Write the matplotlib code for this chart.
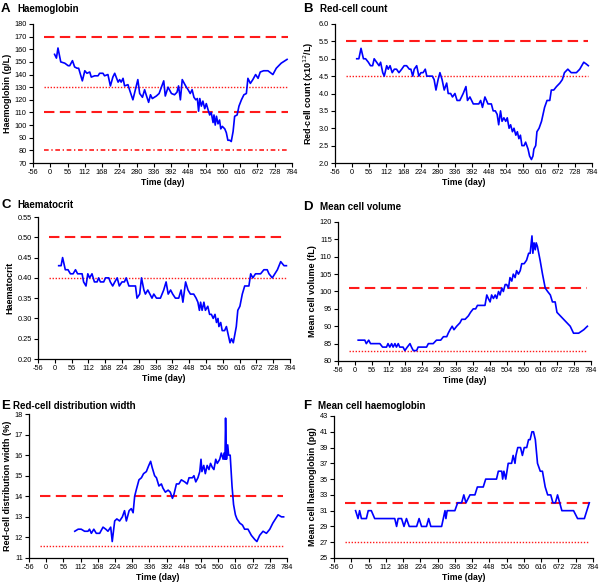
import matplotlib
matplotlib.use('Agg')
import matplotlib.pyplot as plt

plt.rcParams['font.family'] = ['Liberation Sans', 'DejaVu Sans']
plt.rcParams['axes.unicode_minus'] = False

# day axis ticks
day_ticks = list(range(-56, 785, 56))
ref_span = (-21, 770)

# A - haemoglobin (g/L)
hb_day = [14, 20, 25, 34, 47, 58, 63, 72, 79, 87, 92, 104, 112, 119, 128, 133, 144, 155, 160, 171,
          176, 187, 195, 203, 209, 220, 225, 230, 236, 241, 252, 257, 268, 274, 284, 290, 299, 306,
          311, 319, 325, 331, 344, 353, 368, 373, 382, 393, 403, 411, 416, 422, 428, 439, 447, 454,
          460, 466, 472, 477, 481, 485, 490, 495, 501, 506, 512, 517, 522, 528, 531, 535, 539, 544,
          549, 553, 558, 566, 571, 576, 582, 587, 593, 598, 606, 612, 620, 628, 636, 641, 649, 657,
          666, 674, 681, 692, 706, 722, 733, 749, 768]
hb_val = [156, 153, 161, 150, 149, 147, 147, 151, 146, 145, 145, 135, 143, 141, 142, 138, 139, 139, 141, 141,
          139, 140, 131, 138, 141, 134, 136, 134, 137, 131, 132, 128, 120, 126, 136, 125, 122, 128,
          124, 118, 124, 121, 123, 125, 135, 123, 130, 125, 124, 126, 131, 120, 136, 131, 128, 125,
          128, 122, 120, 121, 111, 121, 115, 119, 113, 117, 112, 108, 110, 102, 108, 100, 107, 101,
          104, 97, 99, 97, 94, 88, 88, 87, 95, 107, 108, 115, 120, 124, 125, 137, 133, 136,
          140, 137, 142, 143, 143, 140, 145, 149, 152]

# B - red-cell count (x10^12/L)
rbc_day = [15, 22, 29, 37, 44, 53, 60, 67, 72, 80, 88, 93, 100, 105, 113, 118, 124, 131, 138, 145,
           153, 162, 170, 178, 187, 192, 198, 203, 211, 218, 225, 232, 239, 244, 254, 262, 268, 274,
           281, 287, 294, 301, 309, 314, 322, 328, 336, 343, 352, 363, 372, 377, 385, 396, 406, 414,
           420, 426, 434, 444, 455, 461, 468, 474, 479, 485, 490, 496, 502, 507, 513, 518, 524, 529,
           535, 540, 545, 550, 555, 562, 567, 575, 580, 586, 591, 594, 600, 604, 611, 619, 624, 629,
           637, 646, 651, 659, 668, 679, 687, 694, 705, 716, 733, 744, 757, 765, 772]
rbc_val = [5.0, 5.0, 5.3, 5.0, 5.0, 4.9, 4.8, 4.8, 5.0, 4.9, 4.8, 4.9, 4.6, 4.5, 4.8, 4.7, 4.8, 4.6, 4.7, 4.7,
           4.6, 4.7, 4.8, 4.8, 4.7, 4.7, 4.5, 4.7, 4.8, 4.5, 4.6, 4.6, 4.7, 4.5, 4.5, 4.5, 4.4, 4.1,
           4.4, 4.6, 4.4, 4.1, 4.3, 4.0, 4.0, 3.9, 4.0, 3.8, 3.8, 4.0, 4.2, 3.8, 3.9, 3.7, 3.7, 3.7,
           3.8, 3.6, 3.9, 3.7, 3.7, 3.5, 3.5, 3.4, 3.1, 3.5, 3.2, 3.3, 3.2, 3.3, 3.0, 3.1, 2.9, 3.0,
           2.8, 2.9, 2.7, 2.8, 2.5, 2.5, 2.6, 2.4, 2.2, 2.1, 2.2, 2.4, 2.5, 2.9, 3.0, 3.2, 3.4, 3.6,
           3.8, 3.8, 4.1, 4.1, 4.2, 4.3, 4.4, 4.6, 4.7, 4.6, 4.6, 4.7, 4.9, 4.85, 4.8]

# C - haematocrit
hct_day = [13, 21, 26, 35, 44, 52, 61, 69, 76, 91, 96, 104, 110, 116, 124, 132, 141, 146, 152, 163,
           169, 180, 185, 193, 200, 208, 215, 224, 232, 238, 247, 258, 269, 274, 283, 289, 297, 302,
           310, 317, 324, 330, 339, 352, 363, 371, 378, 386, 393, 402, 413, 421, 427, 436, 444, 452,
           463, 471, 477, 482, 486, 491, 497, 502, 510, 516, 522, 528, 534, 539, 544, 547, 553, 558,
           566, 572, 578, 584, 589, 595, 600, 605, 610, 617, 625, 633, 641, 647, 653, 660, 669, 686,
           697, 708, 714, 725, 742, 753, 764, 772]
hct_val = [0.43, 0.43, 0.45, 0.42, 0.42, 0.41, 0.41, 0.42, 0.41, 0.41, 0.39, 0.38, 0.41, 0.40, 0.41, 0.39, 0.39, 0.40, 0.39, 0.39,
           0.40, 0.40, 0.39, 0.38, 0.39, 0.40, 0.38, 0.39, 0.39, 0.40, 0.38, 0.38, 0.38, 0.35, 0.36, 0.40, 0.37, 0.36,
           0.37, 0.36, 0.35, 0.36, 0.35, 0.35, 0.37, 0.39, 0.36, 0.37, 0.36, 0.35, 0.35, 0.37, 0.34, 0.39, 0.37, 0.36,
           0.36, 0.35, 0.34, 0.32, 0.34, 0.32, 0.34, 0.32, 0.33, 0.31, 0.31, 0.30, 0.31, 0.29, 0.30, 0.28, 0.29, 0.27,
           0.27, 0.28, 0.26, 0.24, 0.25, 0.24, 0.26, 0.28, 0.32, 0.33, 0.36, 0.38, 0.38, 0.38, 0.41, 0.40, 0.41, 0.41,
           0.42, 0.42, 0.41, 0.40, 0.42, 0.44, 0.43, 0.43]

# D - mean cell volume (fL)
mcv_day = [11, 33, 38, 46, 52, 66, 83, 92, 105, 110, 116, 122, 127, 133, 138, 144, 149, 160, 166, 174,
           183, 188, 194, 205, 210, 221, 238, 244, 260, 271, 285, 294, 305, 310, 316, 323, 329, 338,
           349, 355, 366, 377, 384, 393, 401, 407, 421, 432, 438, 443, 449, 454, 460, 466, 471, 477,
           482, 488, 493, 499, 504, 510, 515, 521, 526, 532, 537, 543, 549, 554, 562, 570, 577, 582,
           588, 591, 595, 599, 602, 606, 615, 623, 632, 640, 649, 656, 665, 671, 682, 693, 704, 715,
           726, 743, 760, 772]
mcv_val = [86, 86, 85, 86, 85, 85, 85, 84, 84, 85, 84, 85, 84, 85, 84, 85, 84, 84, 83, 84,
           85, 84, 83, 83, 84, 84, 84, 85, 85, 86, 86, 87, 87, 88, 89, 90, 89, 90,
           91, 92, 92, 93, 94, 95, 95, 96, 96, 96, 99, 98, 97, 99, 98, 99, 98, 100,
           99, 101, 100, 102, 102, 101, 104, 103, 105, 104, 106, 105, 106, 108, 108, 109, 111, 111,
           116, 111, 114, 112, 114, 113, 109, 105, 101, 100, 99, 97, 97, 94, 93, 92, 91, 90,
           88, 88, 89, 90]

# E - red-cell distribution width (%)
rdw_day = [93, 104, 114, 125, 136, 141, 147, 155, 163, 174, 185, 194, 201, 210, 215, 223, 230, 239, 248, 255,
           261, 270, 277, 283, 288, 293, 302, 310, 317, 326, 334, 340, 345, 353, 359, 367, 375, 380,
           388, 397, 404, 411, 416, 424, 432, 440, 451, 459, 465, 476, 481, 487, 494, 500, 504, 507,
           513, 518, 524, 530, 535, 541, 546, 552, 557, 565, 570, 576, 579, 582, 584, 587, 591, 594,
           599, 605, 610, 616, 621, 630, 639, 646, 657, 668, 679, 686, 695, 706, 717, 728, 738, 755,
           766, 773]
rdw_val = [12.3, 12.4, 12.4, 12.3, 12.3, 12.4, 12.2, 12.4, 12.2, 12.2, 12.5, 12.4, 12.3, 12.5, 11.8, 12.8, 12.9, 12.8, 13.0, 13.3,
           12.8, 13.3, 13.4, 13.2, 14.0, 14.3, 14.8, 14.9, 15.1, 15.2, 15.5, 15.7, 15.4, 15.0, 14.9, 14.5, 14.6, 14.4,
           14.2, 14.3, 14.2, 13.9, 14.1, 14.6, 14.6, 14.8, 14.7, 14.6, 14.9, 14.9, 15.0, 14.7, 14.9, 15.2, 15.8, 15.2,
           15.5, 15.1, 15.5, 15.3, 15.6, 15.4, 15.3, 15.8, 15.6, 15.8, 16.1, 15.8, 16.1, 15.8, 17.8, 15.8, 16.5, 16.0,
           16.0, 14.5, 13.6, 13.1, 12.9, 12.7, 12.6, 12.4, 12.4, 12.1, 11.9, 11.8, 12.1, 12.3, 12.2, 12.4, 12.7, 13.1,
           13.0, 13.0]

# F - mean cell haemoglobin (pg)
mch_day = [14, 22, 27, 33, 49, 55, 65, 76, 141, 147, 152, 163, 171, 179, 188, 212, 220, 228, 244, 251,
           258, 293, 304, 307, 311, 336, 345, 358, 365, 372, 385, 401, 409, 428, 436, 471, 477, 488,
           491, 495, 501, 509, 520, 525, 531, 534, 540, 549, 555, 561, 569, 575, 580, 586, 591, 597,
           604, 613, 620, 629, 637, 647, 654, 662, 669, 676, 683, 721, 734, 756, 772]
mch_val = [31, 30, 31, 30, 30, 31, 31, 30, 30, 29, 30, 30, 29, 30, 29, 29, 30, 29, 29, 30,
           29, 29, 31, 30, 31, 31, 32, 32, 33, 32, 33, 33, 34, 34, 35, 35, 36, 36,
           35, 36, 35, 37, 37, 38, 37, 38, 39, 39, 38, 39, 39, 40, 40, 41, 41, 40,
           37, 36, 36, 34, 33, 33, 32, 32, 33, 32, 31, 31, 30, 30, 32]

panels = [
    dict(box=(33, 24, 292, 163), x=hb_day, y=hb_val, ylim=(70, 180), yticks=range(70, 181, 10), fmt='{:.0f}',
         ylabel='Haemoglobin (g/L)', refs=[(170, 'dash'), (130, 'dot'), (110, 'dash'), (80, 'dashdot')],
         letter='A', title='Haemoglobin', lpos=(1, 3), tpos=(17, 4)),
    dict(box=(335, 24, 592, 163), x=rbc_day, y=rbc_val, ylim=(2.0, 6.0), yticks=[2.0, 2.5, 3.0, 3.5, 4.0, 4.5, 5.0, 5.5, 6.0],
         fmt='{:.1f}', ylabel='Red-cell count (x10$^{12}$/L)', refs=[(5.5, 'dash'), (4.5, 'dot')],
         letter='B', title='Red-cell count', lpos=(303, 3), tpos=(320, 4)),
    dict(box=(38, 217, 290, 359), x=hct_day, y=hct_val, ylim=(0.20, 0.55),
         yticks=[0.20, 0.25, 0.30, 0.35, 0.40, 0.45, 0.50, 0.55], fmt='{:.2f}',
         ylabel='Haematocrit', refs=[(0.50, 'dash'), (0.40, 'dot')],
         letter='C', title='Haematocrit', lpos=(1, 199), tpos=(17, 200)),
    dict(box=(338, 222, 591, 361), x=mcv_day, y=mcv_val, ylim=(80, 120), yticks=range(80, 121, 5), fmt='{:.0f}',
         ylabel='Mean cell volume (fL)', refs=[(101, 'dash'), (83, 'dot')],
         letter='D', title='Mean cell volume', lpos=(303, 201), tpos=(320, 202)),
    dict(box=(29, 414, 287, 558), x=rdw_day, y=rdw_val, ylim=(11, 18), yticks=range(11, 19), fmt='{:.0f}',
         ylabel='Red-cell distribution width (%)', refs=[(14, 'dash'), (11.6, 'dot')],
         letter='E', title='Red-cell distribution width', lpos=(1, 400), tpos=(13, 401)),
    dict(box=(334, 416, 593, 558), x=mch_day, y=mch_val, ylim=(25, 43), yticks=range(25, 44, 2), fmt='{:.0f}',
         ylabel='Mean cell haemoglobin (pg)', refs=[(32, 'dash'), (27, 'dot')],
         letter='F', title='Mean cell haemoglobin', lpos=(303, 400), tpos=(318, 401)),
]

styles = {
    'dash': dict(lw=1.5, ls=(0, (5, 2.6))),
    'dot': dict(lw=1.0, ls=(0, (1, 1.2))),
    'dashdot': dict(lw=1.2, ls=(0, (2.8, 1.6, 0.8, 1.6))),
}

W, H = 600, 584
fig = plt.figure(figsize=(6, 5.84), dpi=100)

for p in panels:
    l, t, r, b = p['box']
    ax = fig.add_axes([l / W, 1 - b / H, (r - l) / W, (b - t) / H])
    for val, st in p['refs']:
        ax.plot(ref_span, [val, val], color='#ff1a1a', **styles[st])
    ax.plot(p['x'], p['y'], color='#0000ff', lw=1.2)

    ax.set_xlim(-56, 784)
    ax.set_xticks(day_ticks)
    ax.set_ylim(*p['ylim'])
    ax.set_yticks(list(p['yticks']))
    ax.set_yticklabels([p['fmt'].format(v) for v in p['yticks']])
    ax.tick_params(direction='out', length=3, width=0.8, labelsize=5.3, pad=1.5)
    ax.spines['top'].set_visible(False)
    ax.spines['right'].set_visible(False)
    ax.spines['left'].set_linewidth(0.9)
    ax.spines['bottom'].set_linewidth(0.9)
    ax.set_xlabel('Time (day)', fontsize=6.2, fontweight='bold', labelpad=1)
    ax.set_ylabel(p['ylabel'], fontsize=6.5, fontweight='bold', labelpad=2)

    lx, ly = p['lpos']
    tx, ty = p['tpos']
    fig.text(lx / W, 1 - ly / H, p['letter'], fontsize=9.5, fontweight='bold', va='top', ha='left')
    fig.text(tx / W, 1 - ty / H, p['title'], fontsize=7, fontweight='bold', va='top', ha='left')

fig.savefig('out.png', dpi=100)
